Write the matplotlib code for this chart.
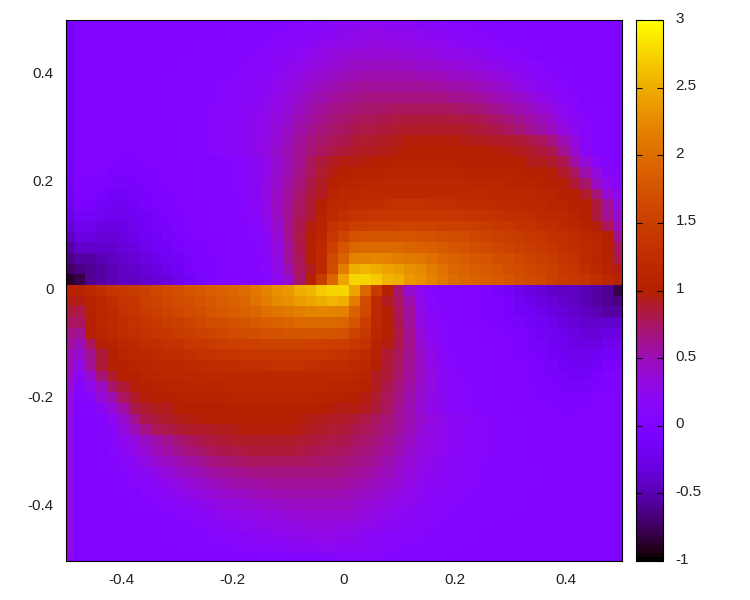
import numpy as np
import matplotlib
matplotlib.use('Agg')
import matplotlib.pyplot as plt
from matplotlib.cm import ScalarMappable
from matplotlib.colors import Normalize
from matplotlib.transforms import ScaledTranslation

# cell values, in hundredths, 51 columns left to right
# rows above the jump, top row first
z_upper = [
[-12,0,0,0,0,0,0,0,0,0,0,0,0,1,1,2,2,3,4,5,7,9,11,13,16,19,20,21,21,20,19,17,15,13,11,10,8,6,5,4,3,2,1,1,0,0,0,0,0,0,0],
[-12,0,0,0,0,0,0,0,0,0,0,1,1,1,2,3,4,5,6,8,10,12,14,17,20,24,26,27,27,26,25,23,21,19,17,15,12,10,8,6,4,3,2,1,1,0,0,0,0,0,0],
[-12,0,0,0,0,0,0,0,0,0,1,1,2,2,3,4,5,7,9,11,14,17,20,23,26,29,31,32,33,32,31,30,28,26,24,21,18,15,12,9,7,5,3,2,1,0,0,0,0,0,0],
[-12,0,0,0,0,0,0,0,0,1,1,2,2,3,4,5,7,9,12,15,18,21,25,29,33,37,38,39,39,38,37,36,34,32,29,27,25,22,19,15,12,9,6,3,1,0,0,0,0,0,0],
[-12,0,0,0,0,0,0,0,1,1,2,2,3,4,5,7,9,11,14,18,22,26,30,34,38,42,44,45,46,46,45,44,42,40,38,36,33,31,28,24,20,16,12,8,4,2,0,0,0,0,0],
[-12,0,0,0,0,0,0,1,1,2,2,3,4,5,6,8,11,14,17,21,26,31,36,40,44,48,50,52,53,53,52,52,51,49,47,45,43,40,37,33,28,23,18,13,8,4,2,0,0,0,0],
[-12,0,0,0,0,0,1,1,2,2,3,4,5,6,8,10,13,16,20,24,30,36,42,46,50,54,57,58,59,59,59,59,58,57,56,54,52,49,46,42,37,31,25,19,13,8,4,1,0,0,0],
[-12,0,0,0,0,0,1,1,2,2,3,4,5,7,9,12,15,18,22,27,33,40,47,53,57,60,64,66,67,67,67,67,67,66,65,64,62,59,56,51,46,41,35,28,21,14,8,3,1,0,0],
[-12,0,0,0,0,0,0,1,1,2,3,4,6,8,10,13,16,20,25,30,37,45,52,58,63,66,70,72,73,74,75,76,76,76,75,74,72,70,66,62,56,50,44,38,30,21,13,6,2,0,0],
[-12,0,0,0,0,0,0,0,1,2,3,4,6,8,11,14,18,22,27,33,40,50,57,63,68,71,75,77,79,81,83,85,85,85,85,84,82,80,77,73,68,62,55,48,38,28,18,10,4,1,0],
[-12,0,0,0,0,0,0,0,1,1,3,4,6,9,12,15,19,23,29,35,44,54,62,68,73,76,80,82,84,86,88,90,90,90,90,90,88,86,84,80,76,70,62,54,45,34,23,14,6,1,0],
[-12,0,0,0,0,0,0,0,0,1,2,4,6,9,12,15,20,25,31,38,47,58,66,72,77,81,86,88,90,92,95,97,98,98,98,97,95,93,91,90,90,87,82,78,65,50,32,15,5,0,0],
[-12,0,0,0,0,0,0,0,0,1,2,4,6,9,12,16,20,26,33,41,50,60,69,76,82,86,90,91,93,95,98,100,101,101,100,100,100,100,100,98,96,93,90,85,80,62,40,20,7,1,0],
[-15,0,0,0,0,-1,-1,0,0,1,1,2,3,4,6,9,14,20,29,38,50,62,75,85,92,96,95,97,101,103,104,104,104,104,104,104,103,103,102,102,101,100,93,93,88,80,55,35,18,5,1],
[-15,0,0,0,-5,-6,-6,-3,-1,0,1,1,2,4,6,9,14,20,29,40,52,65,78,88,96,102,104,106,107,108,108,108,108,108,108,108,108,107,107,106,105,104,103,100,97,90,75,52,35,15,5],
[-18,-2,-2,-4,-10,-10,-10,-6,-3,0,0,1,2,3,5,8,13,20,30,42,55,68,80,92,104,108,110,112,113,114,114,114,114,113,113,113,113,112,112,111,110,109,108,106,103,97,87,72,45,25,10],
[-20,-3,-3,-7,-15,-15,-12,-8,-5,-2,0,1,2,3,5,7,12,20,30,44,58,72,85,92,108,115,115,117,118,118,118,118,118,118,117,117,117,116,116,115,114,113,112,110,108,102,100,88,70,40,20],
[-25,-7,-7,-15,-20,-20,-15,-10,-6,-2,0,1,1,2,4,6,10,18,29,44,60,76,86,100,115,120,122,124,126,128,130,130,130,129,128,127,126,125,123,121,119,117,115,113,110,108,103,100,85,60,30],
[-30,-15,-15,-20,-22,-22,-20,-15,-10,-5,-1,0,1,2,3,5,8,15,27,44,62,78,86,105,120,127,133,136,138,140,142,142,142,141,140,139,137,135,133,130,127,125,122,119,116,113,109,103,85,62,40],
[-35,-22,-22,-30,-30,-28,-22,-18,-12,-8,-3,0,1,2,3,4,6,12,24,40,64,80,96,106,130,138,148,150,152,153,155,155,155,155,153,152,150,148,145,142,138,134,130,126,122,118,112,107,98,78,48],
[-45,-30,-30,-35,-35,-30,-25,-20,-15,-10,-5,-2,0,1,2,3,5,9,20,36,62,82,100,112,138,155,172,175,177,178,178,176,174,172,170,167,165,160,156,152,148,144,140,136,132,127,122,116,110,100,62],
[-55,-40,-40,-40,-40,-35,-30,-25,-20,-15,-10,-5,-1,0,1,2,4,8,18,32,58,80,100,116,150,175,195,197,198,198,196,193,190,186,182,178,174,170,165,160,155,150,146,142,137,132,126,120,113,102,75],
[-65,-55,-55,-50,-45,-40,-35,-30,-25,-20,-15,-10,-5,-1,1,2,4,7,14,30,58,78,100,116,162,190,218,220,222,220,215,212,208,202,195,190,185,180,175,170,165,160,155,150,145,135,130,120,112,104,82],
[-75,-65,-60,-55,-50,-45,-40,-35,-30,-25,-20,-10,-4,-1,1,2,3,6,12,28,52,75,92,120,165,215,250,255,250,245,240,230,225,215,205,195,190,185,180,175,170,165,160,155,150,140,135,125,115,105,95],
[-90,-80,-60,-55,-50,-45,-45,-40,-35,-30,-25,-15,-8,-3,0,1,2,5,10,22,40,72,100,145,195,245,275,275,270,255,250,235,230,220,210,200,195,190,185,180,175,170,165,160,150,145,140,135,125,115,105],
]

# rows below the jump, first row just under it
z_lower = [
[105,105,115,125,135,140,145,150,160,165,170,175,180,185,190,195,200,210,220,230,235,250,255,270,275,275,245,195,145,100,72,40,22,10,5,2,1,0,-3,-8,-15,-25,-30,-35,-40,-45,-45,-50,-55,-60,-80],
[95,95,105,115,125,135,140,150,155,160,165,170,175,180,185,190,195,205,215,225,230,240,245,250,255,250,215,165,120,92,75,52,28,12,6,3,2,1,-1,-4,-10,-20,-25,-30,-35,-40,-45,-50,-55,-60,-65],
[85,82,104,112,120,130,135,145,150,155,160,165,170,175,180,185,190,195,202,208,212,215,220,222,220,218,190,162,116,100,78,58,30,14,7,4,2,1,-1,-5,-10,-15,-20,-25,-30,-35,-40,-45,-50,-55,-55],
[75,75,102,113,120,126,132,137,142,146,150,155,160,165,170,174,178,182,186,190,193,196,198,198,197,195,175,150,116,100,80,58,32,18,8,4,2,1,0,-1,-5,-10,-15,-20,-25,-30,-35,-40,-40,-40,-40],
[65,62,100,110,116,122,127,132,136,140,144,148,152,156,160,165,167,170,172,174,176,178,178,177,175,172,155,138,112,100,82,62,36,20,9,5,3,2,1,0,-2,-5,-10,-15,-20,-25,-30,-35,-35,-30,-30],
[60,48,78,98,107,112,118,122,126,130,134,138,142,145,148,150,152,153,155,155,155,155,153,152,150,148,138,130,106,96,80,64,40,24,12,6,4,3,2,1,0,-3,-8,-12,-18,-22,-28,-30,-30,-22,-22],
[50,40,62,85,103,109,113,116,119,122,125,127,130,133,135,137,139,140,141,142,142,142,140,138,136,133,127,120,105,86,78,62,44,27,15,8,5,3,2,1,0,-1,-5,-10,-15,-20,-22,-22,-20,-15,-15],
[50,30,60,85,100,103,108,110,113,115,117,119,121,123,125,126,127,128,129,130,130,130,128,126,124,122,120,115,100,86,76,60,44,29,18,10,6,4,2,1,1,0,-2,-6,-10,-15,-20,-20,-15,-7,-7],
[45,20,40,70,88,100,102,108,110,112,113,114,115,116,116,117,117,117,118,118,118,118,118,118,117,115,115,108,92,85,72,58,44,30,20,12,7,5,3,2,1,0,-2,-5,-8,-12,-15,-15,-7,-3,-3],
[40,10,25,45,72,87,97,103,106,108,109,110,111,112,112,113,113,113,113,114,114,114,114,113,112,110,108,104,92,80,68,55,42,30,20,13,8,5,3,2,1,0,0,-3,-6,-10,-10,-10,-4,-2,-2],
[35,5,15,35,52,75,90,97,100,103,104,105,106,107,107,108,108,108,108,108,108,108,108,107,106,104,102,96,88,78,65,52,40,29,20,14,9,6,4,2,1,1,0,-1,-3,-6,-6,-5,0,0,0],
[35,1,5,18,35,55,80,88,93,93,100,101,102,102,103,103,104,104,104,104,104,104,103,101,97,95,96,92,85,75,62,50,38,29,20,14,9,6,4,3,2,1,1,0,0,-1,-1,0,0,0,0],
[30,0,1,7,20,40,62,80,85,90,93,96,98,100,100,100,100,100,101,101,100,98,95,93,91,90,86,82,76,69,60,50,41,33,26,20,16,12,9,6,4,2,1,0,0,0,0,0,0,0,0],
[30,0,0,5,15,32,50,65,78,82,87,90,90,91,93,95,97,98,98,98,97,95,92,90,88,86,81,77,72,66,58,47,38,31,25,20,15,12,9,6,4,2,1,0,0,0,0,0,0,0,0],
[30,0,1,6,14,23,34,45,54,62,70,76,80,84,86,88,90,90,90,90,90,88,86,84,82,80,76,73,68,62,54,44,35,29,23,19,15,12,9,6,4,3,1,1,0,0,0,0,0,0,0],
[30,0,1,4,10,18,28,38,48,55,62,68,73,77,80,82,84,85,85,85,85,83,81,79,77,75,71,68,63,57,50,40,33,27,22,18,14,11,8,6,4,3,2,1,0,0,0,0,0,0,0],
[30,0,0,2,6,13,21,30,38,44,50,56,62,66,70,72,74,75,76,76,76,75,74,73,72,70,66,63,58,52,45,37,30,25,20,16,13,10,8,6,4,3,2,1,1,0,0,0,0,0,0],
[30,0,0,1,3,8,14,21,28,35,41,46,51,56,59,62,64,65,66,67,67,67,67,67,66,64,60,57,53,47,40,33,27,22,18,15,12,9,7,5,4,3,2,2,1,1,0,0,0,0,0],
[30,0,0,0,1,4,8,13,19,25,31,37,42,46,49,52,54,56,57,58,59,59,59,59,58,57,54,50,46,42,36,30,24,20,16,13,10,8,6,5,4,3,2,2,1,1,0,0,0,0,0],
[30,0,0,0,0,2,4,8,13,18,23,28,33,37,40,43,45,47,49,51,52,52,53,53,52,50,48,44,40,36,31,26,21,17,14,11,8,6,5,4,3,2,2,1,1,0,0,0,0,0,0],
[30,0,0,0,0,0,2,4,8,12,16,20,24,28,31,33,36,38,40,42,44,45,46,46,45,44,42,38,34,30,26,22,18,14,11,9,7,5,4,3,2,2,1,1,0,0,0,0,0,0,0],
[30,0,0,0,0,0,0,1,3,6,9,12,15,19,22,25,27,29,32,34,36,37,38,39,39,38,37,33,29,25,21,18,15,12,9,7,5,4,3,2,2,1,1,0,0,0,0,0,0,0,0],
[30,0,0,0,0,0,0,1,2,3,5,7,9,12,15,18,21,24,26,28,30,31,32,33,32,31,29,26,23,20,17,14,11,9,7,5,4,3,2,2,1,1,0,0,0,0,0,0,0,0,0],
[30,0,0,0,0,0,0,1,1,2,3,4,6,8,10,12,15,17,19,21,23,25,26,27,27,26,24,20,17,14,12,10,8,6,5,4,3,2,1,1,1,0,0,0,0,0,0,0,0,0,0],
[30,0,0,0,0,0,0,0,1,1,2,3,4,5,6,8,10,11,13,15,17,19,20,21,21,20,19,16,13,11,9,7,5,4,3,2,2,1,1,0,0,0,0,0,0,0,0,0,0,0,0],
[25,0,0,0,0,0,0,0,0,0,0,0,0,0,0,0,1,1,2,2,3,4,5,6,7,8,9,9,8,7,6,5,4,3,2,1,0,0,0,0,0,0,0,0,0,0,0,0,0,0,0],
]

xticks = [-0.4, -0.2, 0, 0.2, 0.4]
xlabels = ['-0.4', '-0.2', '0', '0.2', '0.4']
yticks = [-0.4, -0.2, 0, 0.2, 0.4]
ylabels = ['-0.4', '-0.2', '0', '0.2', '0.4']
cticks = [-1, -0.5, 0, 0.5, 1, 1.5, 2, 2.5, 3]
clabels = ['-1', '-0.5', '0', '0.5', '1', '1.5', '2', '2.5', '3']

plt.rcParams['font.family'] = ['Liberation Sans', 'DejaVu Sans']
W, H = 750.0, 600.0

z = np.array(z_upper + z_lower) / 100.0

# grid step is a bit under 0.02, edge cells are clipped by the frame
step = 0.0198
xe = np.concatenate(([-0.5], 0.009 + step * np.arange(-25, 25), [0.5]))
ye = np.concatenate(([0.5], 0.0102 + step * np.arange(24, -26, -1), [-0.5]))

fig = plt.figure(figsize=(7.5, 6), dpi=100)
ax = fig.add_axes([66 / W, 39 / H, 556 / W, 541 / H])
ax.pcolormesh(xe, ye, z, cmap='gnuplot', vmin=-1, vmax=3, shading='flat', antialiased=False)
ax.set_xlim(-0.5, 0.5)
ax.set_ylim(-0.5, 0.5)
ax.set_xticks(xticks)
ax.set_xticklabels(xlabels)
ax.set_yticks(yticks)
ax.set_yticklabels(ylabels)
ax.tick_params(length=0, labelsize=11, pad=9, colors='#222222')

cax = fig.add_axes([636 / W, 39 / H, 27 / W, 541 / H])
cmap = plt.get_cmap('gnuplot', 128)
cb = fig.colorbar(ScalarMappable(Normalize(-1, 3), cmap), cax=cax)
cb.set_ticks(cticks)
cb.set_ticklabels(clabels)
cb.minorticks_off()
cax.tick_params(direction='in', length=4.3, width=0.8, left=True, right=True, labelsize=11, pad=9, colors='black')
cb.outline.set_linewidth(0.8)

# tick labels sit a little higher than matplotlib centres them
up2 = ScaledTranslation(0, 2 / 72.0 * 0.72, fig.dpi_scale_trans)
up3 = ScaledTranslation(0, 3 / 72.0 * 0.72, fig.dpi_scale_trans)
for t in ax.get_yticklabels():
    t.set_transform(t.get_transform() + up2)
for t in cax.get_yticklabels():
    t.set_color('#222222')
    t.set_transform(t.get_transform() + up3)

fig.savefig('out.png', dpi=100)
